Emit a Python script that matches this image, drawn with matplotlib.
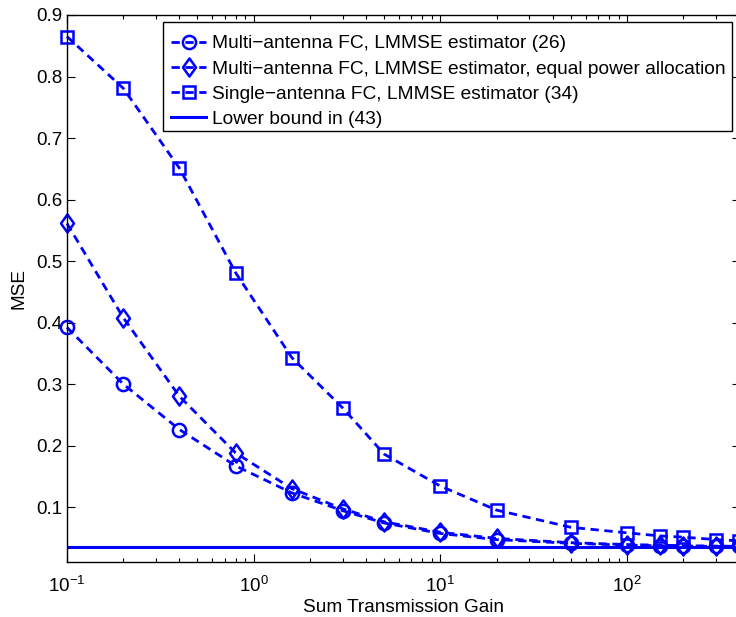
import matplotlib
matplotlib.use("Agg")
import matplotlib.pyplot as plt
import numpy as np
from matplotlib.ticker import LogLocator, NullFormatter
from matplotlib.path import Path
from matplotlib.patches import Rectangle

plt.rcParams['font.family'] = ['Liberation Sans', 'DejaVu Sans']
plt.rcParams['mathtext.fontset'] = 'custom'
plt.rcParams['mathtext.rm'] = 'Liberation Sans'
plt.rcParams['mathtext.it'] = 'Liberation Sans'

x = [0.1, 0.2, 0.4, 0.8, 1.6, 3, 5, 10, 20, 50, 100, 150, 200, 300, 400]
mse_multi = [0.392, 0.300, 0.226, 0.167, 0.123, 0.094, 0.074, 0.057, 0.047, 0.041, 0.038, 0.037, 0.0365, 0.036, 0.036]
mse_equal = [0.561, 0.408, 0.280, 0.188, 0.130, 0.097, 0.076, 0.059, 0.049, 0.042, 0.039, 0.038, 0.037, 0.0365, 0.036]
mse_single = [0.865, 0.781, 0.651, 0.481, 0.343, 0.261, 0.186, 0.134, 0.095, 0.067, 0.058, 0.053, 0.051, 0.047, 0.045]
lower_bound = 0.0355

labels = ["Multi\u2212antenna FC, LMMSE estimator (26)",
          "Multi\u2212antenna FC, LMMSE estimator, equal power allocation",
          "Single\u2212antenna FC, LMMSE estimator (34)",
          "Lower bound in (43)"]

W, H = 736, 617
fig = plt.figure(figsize=(W/100, H/100), dpi=100)
ax = fig.add_axes([67/W, 1-562/H, (739.5-67)/W, (562-15)/H])

col = (0, 0, 1)
dash = (0, (3.0, 2.0))
diamond = Path([(0, 1), (0.72, 0), (0, -1), (-0.72, 0), (0, 1)],
               [Path.MOVETO, Path.LINETO, Path.LINETO, Path.LINETO, Path.CLOSEPOLY])
kw = dict(color=col, lw=2.0, ls=dash, mfc='none', mec=col, mew=1.8, clip_on=False)
ax.plot(x, mse_multi, marker='o', ms=9.5, label=labels[0], **kw)
ax.plot(x, mse_equal, marker=diamond, ms=13, label=labels[1], **kw)
ax.plot(x, mse_single, marker='s', ms=8.5, label=labels[2], **kw)
ax.axhline(lower_bound, color=col, lw=2.2, label=labels[3])

ax.set_xscale('log')
ax.set_xlim(0.1, 400)
ax.set_ylim(0.0106, 0.9)
ax.set_yticks([0.1, 0.2, 0.3, 0.4, 0.5, 0.6, 0.7, 0.8, 0.9])
ax.set_yticklabels(['0.1', '0.2', '0.3', '0.4', '0.5', '0.6', '0.7', '0.8', '0.9'])
ax.xaxis.set_major_locator(LogLocator(base=10, numticks=10))
ax.xaxis.set_minor_locator(LogLocator(base=10, subs=np.arange(2, 10), numticks=20))
ax.xaxis.set_minor_formatter(NullFormatter())
ax.tick_params(which='both', direction='in', top=True, right=True, labelsize=13.5)
ax.tick_params(axis='x', which='major', pad=10)
ax.tick_params(which='major', length=6, width=0.8)
ax.tick_params(which='minor', length=3, width=0.8)
for s in ax.spines.values():
    s.set_linewidth(1.0)

ax.set_xlabel("Sum Transmission Gain", fontsize=13.7, labelpad=2)
ax.set_ylabel("MSE", fontsize=13.7, labelpad=6)

# legend frame drawn as a box, entries placed inside it
frame = Rectangle((163/W, 1-131/H), (731.7-163)/W, (131-21.7)/H, transform=fig.transFigure,
                  facecolor='white', edgecolor='black', lw=1.0, zorder=5)
fig.patches.append(frame)
leg = fig.legend(loc='upper left', bbox_to_anchor=(171/W, 1-35/H), fontsize=13.8,
                 frameon=False, handlelength=1.85, handletextpad=0.28, labelspacing=0.40,
                 borderpad=0, borderaxespad=0)
leg.set_zorder(6)

fig.savefig("out.png", dpi=100)
